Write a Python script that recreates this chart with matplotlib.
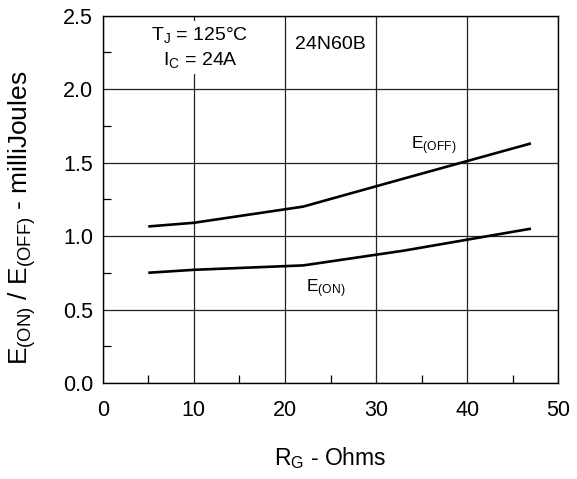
import matplotlib.pyplot as plt
from matplotlib.ticker import MultipleLocator

plt.rcParams['font.family'] = ['Liberation Sans', 'DejaVu Sans']
plt.rcParams['mathtext.default'] = 'regular'

# Switching energy vs gate resistance
rg_ohms = [5, 10, 22, 33, 47]
e_off = [1.065, 1.09, 1.20, 1.39, 1.63]
e_on = [0.75, 0.77, 0.80, 0.90, 1.05]

fig = plt.figure(figsize=(5.77, 4.79), dpi=100)
ax = fig.add_axes([0.178, 0.2004, 0.7896, 0.7672])

ax.plot(rg_ohms, e_off, color="black", linewidth=1.9, solid_capstyle="butt")
ax.plot(rg_ohms, e_on, color="black", linewidth=1.9, solid_capstyle="butt")

ax.set_xlim(0, 50)
ax.set_ylim(0, 2.5)
ax.xaxis.set_major_locator(MultipleLocator(10))
ax.xaxis.set_minor_locator(MultipleLocator(5))
ax.yaxis.set_major_locator(MultipleLocator(0.5))
ax.yaxis.set_minor_locator(MultipleLocator(0.25))
ax.yaxis.set_major_formatter(plt.FormatStrFormatter("%.1f"))

ax.grid(True, which="major", color="#222222", linewidth=0.9)
ax.tick_params(which="both", direction="in", top=False, right=False,
               labelsize=15.5, colors="black")
ax.tick_params(axis="x", which="major", length=0, pad=12)
ax.tick_params(axis="y", which="major", length=0, pad=7)
ax.tick_params(which="minor", length=6, width=0.9)
for s in ax.spines.values():
    s.set_linewidth(1.0)

ax.set_xlabel("R$_G$ - Ohms", fontsize=16.5)
ax.set_ylabel("E$_{(ON)}$ / E$_{(OFF)}$ - milliJoules", fontsize=19)
ax.xaxis.set_label_coords(0.5, -0.168)
ax.yaxis.set_label_coords(-0.142, 0.449)

# test conditions sit on a white patch that hides the grid line behind them
box = dict(facecolor="white", edgecolor="none", pad=3)
ax.text(10.6, 2.367, "T$_J$ = 125°C", fontsize=14, ha="center", va="center",
        bbox=box, zorder=4)
ax.text(10.7, 2.197, "I$_C$ = 24A", fontsize=14, ha="center", va="center",
        bbox=box, zorder=4)
ax.text(25.0, 2.30, "24N60B", fontsize=14, ha="center", va="center")
ax.text(33.8, 1.59, "E$_{(OFF)}$", fontsize=12.5, ha="left", va="baseline")
ax.text(22.3, 0.614, "E$_{(ON)}$", fontsize=12.5, ha="left", va="baseline")

plt.savefig("out.png", dpi=100)
